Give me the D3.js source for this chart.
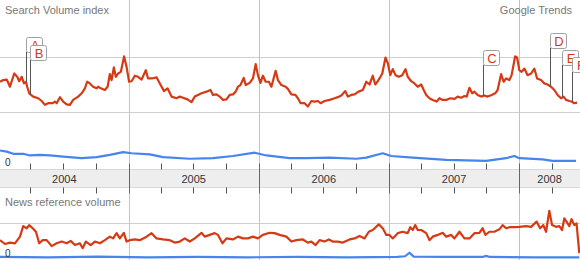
<!DOCTYPE html>
<html>
<head>
<meta charset="utf-8">
<script src="https://cdn.jsdelivr.net/npm/d3@7"></script>
<style>
  html, body { margin: 0; padding: 0; background: #fff; }
  svg { display: block; font-family: "Liberation Sans", Arial, sans-serif; }
</style>
</head>
<body>
<svg id="chart" width="580" height="260"></svg>
<script>
// week offset from 1 Jan 2004, value
var searchRed = [
  [0.8, 1.55], [2.1, 1.58], [3.5, 1.59], [4.8, 1.46], [6.5, 1.70], [7.7, 1.64], [8.5, 1.56], [9.5, 1.64],
  [10.4, 1.52], [11.2, 1.55], [11.7, 1.46], [12.5, 1.34], [14.1, 1.28], [16.1, 1.25], [17.5, 1.20], [18.8, 1.13],
  [20.1, 1.16], [21.9, 1.16], [22.8, 1.19], [23.5, 1.16], [24.8, 1.27], [26.1, 1.19], [27.5, 1.14], [28.8, 1.13],
  [30.1, 1.22], [32.1, 1.28], [33.5, 1.34], [34.8, 1.43], [35.7, 1.55], [36.8, 1.52], [38.1, 1.46], [39.5, 1.43],
  [40.1, 1.46], [41.2, 1.43], [42.8, 1.40], [43.9, 1.46], [44.8, 1.69], [45.5, 1.58], [46.4, 1.81], [47.2, 1.64],
  [48.1, 1.70], [49.2, 1.73], [50.5, 2.01], [51.5, 1.82], [52.5, 1.55], [53.5, 1.56], [54.8, 1.66], [56.1, 1.64],
  [57.5, 1.59], [59.2, 1.76], [60.1, 1.61], [61.7, 1.61], [63.5, 1.63], [64.8, 1.52], [66.5, 1.38], [67.9, 1.43],
  [69.5, 1.28], [71.5, 1.25], [72.8, 1.28], [74.1, 1.26], [75.9, 1.23], [77.5, 1.18], [78.8, 1.28], [80.1, 1.31],
  [81.5, 1.34], [83.5, 1.37], [85.1, 1.40], [86.1, 1.31], [87.5, 1.32], [88.8, 1.28], [90.1, 1.22], [91.5, 1.23],
  [92.8, 1.31], [94.1, 1.32], [95.2, 1.37], [96.1, 1.46], [97.1, 1.49], [98.4, 1.62], [99.2, 1.49], [100.8, 1.53],
  [102.1, 1.61], [103.2, 1.87], [104.1, 1.67], [105.1, 1.53], [106.1, 1.66], [107.2, 1.55], [108.5, 1.55], [109.5, 1.46],
  [111.2, 1.75], [112.1, 1.58], [113.5, 1.49], [115.2, 1.46], [116.1, 1.42], [117.5, 1.32], [119.1, 1.31], [120.1, 1.25],
  [121.2, 1.16], [122.8, 1.16], [124.1, 1.10], [125.5, 1.20], [126.8, 1.19], [128.1, 1.20], [129.2, 1.16], [130.8, 1.20],
  [132.8, 1.22], [134.8, 1.25], [136.1, 1.27], [137.5, 1.30], [139.1, 1.38], [140.1, 1.28], [141.5, 1.31], [142.8, 1.32],
  [144.4, 1.37], [146.1, 1.40], [147.5, 1.55], [148.8, 1.50], [150.1, 1.66], [151.1, 1.50], [152.1, 1.56], [152.8, 1.61],
  [153.9, 1.70], [155.2, 1.99], [156.1, 1.89], [157.1, 1.67], [158.1, 1.78], [159.2, 1.67], [160.5, 1.64], [161.9, 1.67],
  [163.2, 1.78], [164.1, 1.64], [165.5, 1.56], [166.8, 1.52], [168.1, 1.46], [169.5, 1.50], [170.5, 1.40], [171.5, 1.31],
  [172.8, 1.25], [174.1, 1.22], [175.7, 1.19], [176.8, 1.25], [178.1, 1.22], [179.5, 1.22], [181.1, 1.25], [182.8, 1.24],
  [184.1, 1.28], [185.5, 1.26], [186.8, 1.29], [187.7, 1.28], [188.8, 1.44], [189.9, 1.34], [190.8, 1.37], [192.1, 1.31],
  [193.5, 1.28], [194.8, 1.30], [196.1, 1.28], [197.7, 1.31], [199.1, 1.34], [200.1, 1.40], [201.5, 1.69], [202.5, 1.55],
  [203.5, 1.61], [204.8, 1.58], [205.7, 1.67], [207.1, 2.01], [207.9, 1.99], [208.8, 1.76], [209.7, 1.73], [210.8, 1.79],
  [212.1, 1.67], [213.5, 1.70], [214.8, 1.79], [215.9, 1.61], [217.5, 1.58], [218.8, 1.52], [220.1, 1.50], [221.5, 1.46],
  [222.8, 1.40], [224.1, 1.31], [225.5, 1.25], [226.5, 1.28], [227.5, 1.22], [228.8, 1.20], [229.7, 1.19], [230.8, 1.16],
  [231.9, 1.17]
];

var searchBlue = [
  [0.8, 0.30], [3.5, 0.28], [6.1, 0.24], [10.1, 0.24], [12.8, 0.21], [16.8, 0.22], [20.8, 0.21], [26.1, 0.19],
  [33.5, 0.16], [39.5, 0.18], [44.8, 0.22], [50.1, 0.27], [53.5, 0.25], [60.8, 0.23], [66.1, 0.18], [76.8, 0.15],
  [86.1, 0.16], [94.1, 0.20], [102.8, 0.26], [107.5, 0.21], [116.8, 0.16], [123.5, 0.16], [132.8, 0.17], [143.5, 0.15],
  [147.5, 0.17], [154.1, 0.25], [157.5, 0.20], [166.1, 0.17], [179.5, 0.13], [195.5, 0.11], [203.5, 0.16], [206.8, 0.20],
  [208.8, 0.16], [218.1, 0.14], [222.1, 0.11], [231.5, 0.11]
];

var newsRed = [
  [0.8, 0.51], [2.8, 0.40], [4.8, 0.44], [6.8, 0.42], [8.8, 0.61], [10.1, 0.91], [11.5, 0.85], [12.5, 0.94],
  [13.9, 0.85], [15.2, 0.75], [16.5, 0.42], [17.9, 0.51], [19.5, 0.51], [21.5, 0.34], [23.5, 0.42], [25.5, 0.47],
  [27.5, 0.42], [29.1, 0.49], [30.8, 0.37], [32.8, 0.42], [33.9, 0.28], [35.2, 0.47], [37.1, 0.37], [38.8, 0.47],
  [40.8, 0.42], [42.8, 0.51], [44.8, 0.61], [46.1, 0.56], [47.5, 0.71], [48.8, 0.56], [50.4, 0.72], [51.5, 0.47],
  [52.8, 0.51], [54.8, 0.53], [56.8, 0.51], [59.5, 0.61], [61.5, 0.71], [63.5, 0.56], [66.1, 0.53], [68.8, 0.51],
  [70.8, 0.44], [72.8, 0.47], [74.8, 0.56], [76.8, 0.47], [78.8, 0.56], [81.5, 0.72], [82.8, 0.61], [84.8, 0.66],
  [86.8, 0.71], [88.1, 0.66], [89.9, 0.42], [91.5, 0.56], [94.1, 0.53], [96.1, 0.61], [98.1, 0.56], [100.1, 0.56],
  [102.1, 0.61], [104.1, 0.56], [106.1, 0.66], [108.8, 0.72], [110.8, 0.71], [112.8, 0.66], [115.5, 0.61], [117.5, 0.47],
  [119.5, 0.51], [122.1, 0.53], [124.1, 0.44], [125.5, 0.47], [127.2, 0.37], [128.8, 0.51], [130.8, 0.47], [132.5, 0.53],
  [134.1, 0.47], [136.1, 0.47], [138.1, 0.44], [140.8, 0.53], [142.8, 0.56], [144.8, 0.63], [146.8, 0.56], [148.5, 0.75],
  [150.1, 0.80], [152.5, 0.96], [154.1, 0.85], [155.5, 0.66], [156.8, 0.66], [158.1, 0.56], [160.1, 0.71], [162.1, 0.75],
  [164.1, 0.71], [165.1, 0.88], [166.1, 0.80], [167.1, 0.94], [168.1, 0.80], [169.5, 0.80], [171.5, 0.71], [172.8, 0.51],
  [174.1, 0.61], [176.1, 0.66], [178.1, 0.72], [179.5, 0.61], [181.5, 0.66], [182.8, 0.56], [184.8, 0.75], [186.8, 0.56],
  [188.8, 0.56], [190.8, 0.71], [192.8, 0.72], [194.1, 0.85], [195.2, 0.66], [196.8, 0.75], [198.8, 0.75], [200.8, 0.82],
  [202.1, 0.94], [203.5, 0.85], [204.8, 0.88], [206.8, 0.88], [208.8, 0.89], [211.5, 0.91], [213.5, 0.89], [215.7, 1.04],
  [217.1, 0.85], [218.4, 0.94], [219.5, 0.75], [220.8, 1.35], [221.9, 0.94], [223.5, 0.89], [224.8, 0.91], [225.9, 0.80],
  [226.8, 1.13], [227.7, 1.04], [228.8, 0.91], [229.7, 1.11], [230.8, 0.94], [231.7, 0.99], [232.8, 0.14]
];

var newsBlue = [
  [0.8, 0.03], [20, 0.02], [40, 0.04], [60, 0.02], [80, 0.03], [100, 0.02], [120, 0.03], [140, 0.02],
  [160, 0.03], [163, 0.05], [164.8, 0.15], [166.5, 0.04], [180, 0.03], [194, 0.03], [195.5, 0.06], [197, 0.03],
  [215, 0.02], [232.8, 0.02]
];

var years = [2004, 2005, 2006, 2007, 2008];
var flagLetters = ['A', 'B', 'C', 'D', 'E', 'F'];
var flagWeeks = [11.2, 12.8, 194.1, 221.1, 226.0, 230.0];
var flagSeries = [searchRed, searchRed, searchRed, searchRed, searchRed, searchRed];

(function() {
  'use strict';

  var W = 580, H = 260;
  var RED = '#d63a14', BLUE = '#4684ee';
  var start = new Date(2004, 0, 1);

  // stacked flag boxes, top edge in px (layout only)
  var flagTops = [37, 45, 50, 33, 50, 57];

  function weekDate(w) {
    return new Date(start.getTime() + w * 7 * 864e5);
  }

  var svg = d3.select('#chart');

  var x = d3.scaleTime()
    .domain([start, new Date(2009, 0, 1)])
    .range([-2, 649.7]);

  var yTop = d3.scaleLinear().domain([0, 3]).range([167, 2]);
  var yBot = d3.scaleLinear().domain([0, 1]).range([258, 223]);

  var bandTop = 169.5, bandBot = 187.5;

  // horizontal grid
  svg.append('g')
    .selectAll('line')
    .data([yTop(1), yTop(2), yBot(1)])
    .enter().append('line')
    .attr('x1', 0).attr('x2', W)
    .attr('y1', function(d) { return Math.round(d) + 0.5; })
    .attr('y2', function(d) { return Math.round(d) + 0.5; })
    .attr('stroke', '#cfcfcf');

  // date band
  svg.append('rect')
    .attr('x', 0).attr('y', bandTop)
    .attr('width', W).attr('height', bandBot - bandTop)
    .attr('fill', '#eeeeee');
  svg.append('line')
    .attr('x1', 0).attr('x2', W)
    .attr('y1', bandTop).attr('y2', bandTop)
    .attr('stroke', '#d8d8d8');
  svg.append('line')
    .attr('x1', 0).attr('x2', W)
    .attr('y1', bandBot).attr('y2', bandBot)
    .attr('stroke', '#d8d8d8');

  // year boundaries
  var yearDates = years.map(function(y) { return new Date(y, 0, 1); }).slice(1);
  var vg = svg.append('g');
  vg.selectAll('line.grid')
    .data(yearDates)
    .enter().append('line')
    .attr('class', 'grid')
    .attr('x1', function(d) { return Math.round(x(d)) + 0.5; })
    .attr('x2', function(d) { return Math.round(x(d)) + 0.5; })
    .attr('y1', 0).attr('y2', H)
    .attr('stroke', '#c4c4c4');
  vg.selectAll('line.major')
    .data(yearDates)
    .enter().append('line')
    .attr('class', 'major')
    .attr('x1', function(d) { return Math.round(x(d)) + 0.5; })
    .attr('x2', function(d) { return Math.round(x(d)) + 0.5; })
    .attr('y1', bandTop - 6).attr('y2', bandBot + 6)
    .attr('stroke', '#666');

  // quarter ticks
  var quarters = d3.timeMonth.every(3).range(new Date(2004, 3, 1), new Date(2008, 6, 2))
    .filter(function(d) { return d.getMonth() !== 0; });
  var tg = svg.append('g').attr('stroke', '#555');
  tg.selectAll('line.up')
    .data(quarters)
    .enter().append('line')
    .attr('x1', function(d) { return Math.round(x(d)) + 0.5; })
    .attr('x2', function(d) { return Math.round(x(d)) + 0.5; })
    .attr('y1', bandTop - 6).attr('y2', bandTop);
  tg.selectAll('line.down')
    .data(quarters)
    .enter().append('line')
    .attr('x1', function(d) { return Math.round(x(d)) + 0.5; })
    .attr('x2', function(d) { return Math.round(x(d)) + 0.5; })
    .attr('y1', bandBot).attr('y2', bandBot + 6);

  // year labels, centred in the visible part of each year
  svg.append('g')
    .selectAll('text')
    .data(years)
    .enter().append('text')
    .attr('x', function(y) {
      var a = Math.max(0, x(new Date(y, 0, 1))), b = Math.min(W, x(new Date(y + 1, 0, 1)));
      return (a + b) / 2;
    })
    .attr('y', bandBot - 5)
    .attr('text-anchor', 'middle')
    .attr('font-size', 11)
    .attr('fill', '#333')
    .text(function(d) { return d; });

  // series
  function draw(data, yScale, color) {
    var line = d3.line()
      .x(function(d) { return x(weekDate(d[0])); })
      .y(function(d) { return yScale(d[1]); });
    svg.append('path')
      .datum(data)
      .attr('d', line)
      .attr('fill', 'none')
      .attr('stroke', color)
      .attr('stroke-width', 2.2)
      .attr('stroke-linejoin', 'round');
  }

  draw(searchBlue, yTop, BLUE);
  draw(searchRed, yTop, RED);
  draw(newsBlue, yBot, BLUE);
  draw(newsRed, yBot, RED);

  // flags
  var bis = d3.bisector(function(d) { return d[0]; }).left;
  function valueAt(data, w) {
    var i = Math.max(1, Math.min(data.length - 1, bis(data, w)));
    var a = data[i - 1], b = data[i];
    var t = (w - a[0]) / (b[0] - a[0]);
    return a[1] + (b[1] - a[1]) * t;
  }

  var fw = 16, fh = 15;
  var fg = svg.append('g');
  flagLetters.forEach(function(letter, i) {
    var px = Math.round(x(weekDate(flagWeeks[i]))) + 0.5;
    var py = yTop(valueAt(flagSeries[i], flagWeeks[i]));
    var top = flagTops[i];
    var g = fg.append('g');
    g.append('line')
      .attr('x1', px).attr('x2', px)
      .attr('y1', top + fh).attr('y2', py)
      .attr('stroke', '#555');
    g.append('rect')
      .attr('x', px).attr('y', top + 0.5)
      .attr('width', fw).attr('height', fh)
      .attr('rx', 2)
      .attr('fill', '#fff')
      .attr('stroke', '#a0a0a0');
    g.append('text')
      .attr('x', px + fw / 2 + 0.5)
      .attr('y', top + 12.5)
      .attr('text-anchor', 'middle')
      .attr('font-size', 13)
      .attr('fill', RED)
      .text(letter);
  });

  // labels
  svg.append('text')
    .attr('x', 5).attr('y', 14)
    .attr('font-size', 11).attr('fill', '#777')
    .text('Search Volume index');
  svg.append('text')
    .attr('x', 572).attr('y', 14)
    .attr('text-anchor', 'end')
    .attr('font-size', 11).attr('fill', '#777')
    .text('Google Trends');
  svg.append('text')
    .attr('x', 5).attr('y', 206)
    .attr('font-size', 11).attr('fill', '#777')
    .text('News reference volume');
  svg.append('text')
    .attr('x', 5).attr('y', 166)
    .attr('font-size', 10).attr('fill', '#333')
    .text('0');
  svg.append('text')
    .attr('x', 5).attr('y', 257)
    .attr('font-size', 10).attr('fill', '#333')
    .text('0');
})();
</script>
</body>
</html>
